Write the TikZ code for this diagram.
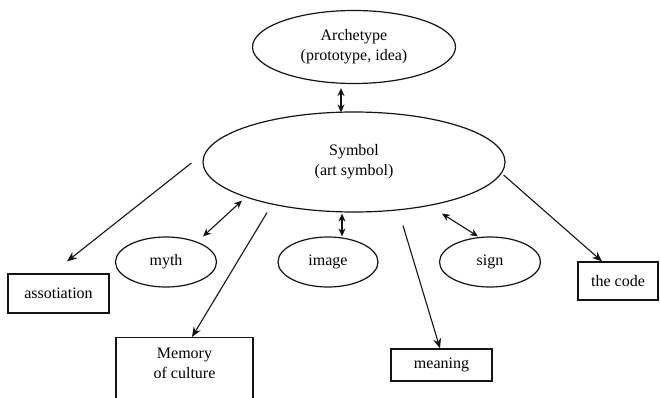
\documentclass[tikz,border=0pt]{standalone}
\usepackage{fontspec}
\setmainfont{Liberation Serif}
\usepackage{tikz}
\usetikzlibrary{arrows.meta,positioning,calc,shapes.geometric}
\definecolor{ink}{RGB}{20,20,20}
\tikzset{
  oval/.style={draw=ink,ellipse,line width=1.2pt,inner sep=0pt,align=center,
    font=\fontsize{16}{20}\selectfont},
  card/.style={draw=ink,rectangle,line width=1.2pt,inner sep=0pt,align=center,
    font=\fontsize{16}{20}\selectfont},
  arr/.style={-{Stealth[length=10pt,width=8pt]},line width=1.1pt,ink},
  twin/.style={{Stealth[length=8pt,width=7pt]}-{Stealth[length=8pt,width=7pt]},
    line width=1.1pt,ink},
}

\begin{document}
\begin{tikzpicture}[x=1pt,y=-1pt]
  \useasboundingbox (0,0) rectangle (660,398);
  % ovals
  \node[oval,minimum width=203pt,minimum height=73pt] (arche) at (354,47)
    {Archetype\\(prototype, idea)};
  \node[oval,minimum width=302pt,minimum height=100pt] (sym) at (354,162)
    {Symbol\\(art symbol)};
  \node[oval,minimum width=101pt,minimum height=50pt] (myth) at (166,262) {myth};
  \node[oval,minimum width=100pt,minimum height=50pt] (image) at (328,262) {image};
  \node[oval,minimum width=101pt,minimum height=50pt] (sign) at (490,262) {sign};
  % boxes
  \node[card,minimum width=101pt,minimum height=39pt] (assoc) at (58.5,293.5) {assotiation};
  \node[card,minimum width=137pt,text height=41pt,text depth=52pt,anchor=north]
    (mem) at (184.5,337) {Memory\\of culture};
  \node[card,minimum width=101pt,minimum height=32pt] (mean) at (441.5,365) {meaning};
  \node[card,minimum width=80pt,minimum height=38pt] (code) at (618,281) {the code};
  % links
  \draw[twin] ($(arche.south)+(-13,4)$) -- ($(sym.north)+(-13,1)$);
  \draw[twin] ($(myth.north)+(37,0)$) -- ($(sym.south)+(-112,-12)$);
  \draw[twin] ($(image.north)+(14,0)$) -- ($(sym.south)+(-12,1)$);
  \draw[twin] ($(sign.north)+(-12,0)$) -- ($(sym.south)+(88,1)$);
  \draw[arr] ($(sym.west)+(-11,1)$) -- ($(assoc.north)+(8.5,-12)$);
  \draw[arr] ($(sym.south)+(-87,0)$) -- ($(mem.north)+(7.5,0)$);
  \draw[arr] ($(sym.south)+(49,13)$) -- ($(mean.north)+(-1.5,0)$);
  \draw[arr] ($(sym.east)+(-2,13)$) -- ($(code.north)+(-16,0)$);
\end{tikzpicture}
\end{document}
